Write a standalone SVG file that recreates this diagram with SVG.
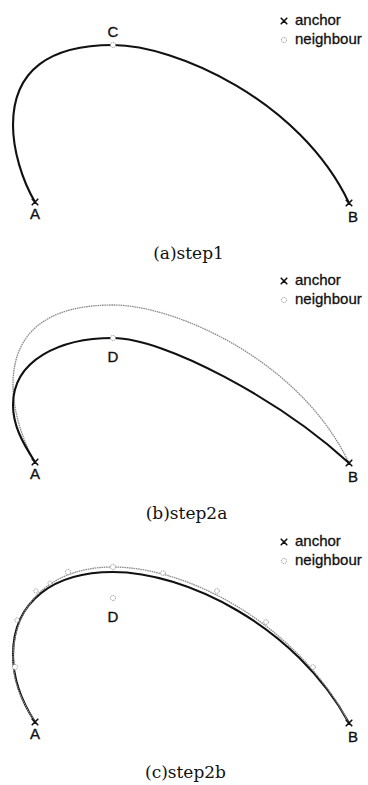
<svg xmlns="http://www.w3.org/2000/svg" width="368" height="785" viewBox="0 0 368 785">
<style>
.bg{fill:#fff}
.curve{fill:none;stroke:#111;stroke-width:2.1;stroke-linecap:round}
.old{fill:none;stroke:#8c8c8c;stroke-width:1.3;stroke-dasharray:1.6 0.7}
.x{stroke:#111;stroke-width:1.6;stroke-linecap:round}
.nb{fill:#fff;stroke:#888;stroke-width:0.9;stroke-dasharray:1.2 0.8}
.lbl{font-family:"Liberation Sans",Arial,sans-serif;font-size:15px;fill:#111;stroke:#111;stroke-width:0.35;text-anchor:middle}
.leg{font-family:"Liberation Sans",Arial,sans-serif;font-size:15px;fill:#111;stroke:#111;stroke-width:0.3}
.cap{font-family:"DejaVu Serif","Liberation Serif",serif;font-size:17px;fill:#111;text-anchor:middle}
</style>
<defs>
<g id="cross"><path class="x" d="M-2.8,-2.8 L2.8,2.8 M2.8,-2.8 L-2.8,2.8"/></g>
<path id="c1" d="M35,202 C22,180 13,150 13,125 C13,70 50,45 113,45 C175,45 300,100 349,203"/>
</defs>
<rect class="bg" x="0" y="0" width="368" height="785"/>

<!-- Panel a -->
<g id="panel-a">
<g id="connectors-a"><use href="#c1" class="curve"/></g>
<g id="a-A"><use href="#cross" x="35" y="202"/><text class="lbl" x="35" y="219">A</text></g>
<g id="a-B"><use href="#cross" x="349" y="203"/><text class="lbl" x="353" y="222">B</text></g>
<g id="a-C"><circle class="nb" cx="113" cy="45" r="2.6"/><text class="lbl" x="113" y="37">C</text></g>
<g id="a-legend"><use href="#cross" x="284" y="21"/><text class="leg" x="295" y="25">anchor</text><circle class="nb" cx="284" cy="40" r="2.6"/><text class="leg" x="295" y="44">neighbour</text></g>
<text class="cap" x="188.5" y="259">(a)step1</text>
</g>

<!-- Panel b -->
<g id="panel-b" transform="translate(0,260)">
<g id="connectors-b">
<use href="#c1" class="old"/>
<path class="curve" d="M35,202 C22,182 13,165 13,145 C13,100 60,78 113,78 C165,78 280,140 349,203"/>
</g>
<g id="b-A"><use href="#cross" x="35" y="202"/><text class="lbl" x="35" y="219">A</text></g>
<g id="b-B"><use href="#cross" x="349" y="203"/><text class="lbl" x="353" y="222">B</text></g>
<g id="b-D"><circle class="nb" cx="113" cy="78" r="2.6"/><text class="lbl" x="113" y="102">D</text></g>
<g id="b-legend"><use href="#cross" x="284" y="21"/><text class="leg" x="295" y="25">anchor</text><circle class="nb" cx="284" cy="40" r="2.6"/><text class="leg" x="295" y="44">neighbour</text></g>
<text class="cap" x="186.5" y="259">(b)step2a</text>
</g>

<!-- Panel c -->
<g id="panel-c" transform="translate(0,520)">
<g id="connectors-c">
<path class="curve" d="M35,202 C22,182 13,160 13,135 C13,80 55,52 113,52 C185,52 295,105 349,203"/>
<path class="old" d="M35,202 C22,182 13,162 13,140 C13,80 55,47 113,47 C185,47 295,101 349,203"/>
</g>
<g id="c-A"><use href="#cross" x="35" y="202"/><text class="lbl" x="35" y="219">A</text></g>
<g id="c-B"><use href="#cross" x="349" y="203"/><text class="lbl" x="353" y="222">B</text></g>
<g id="c-D"><circle class="nb" cx="113" cy="78" r="2.6"/><text class="lbl" x="113" y="102">D</text></g>
<g id="c-neighbours">
<circle class="nb" cx="15" cy="147" r="2.6"/>
<circle class="nb" cx="17" cy="100" r="2.2"/>
<circle class="nb" cx="36" cy="71" r="2.2"/>
<circle class="nb" cx="50" cy="63" r="2"/>
<circle class="nb" cx="68" cy="52" r="2.6"/>
<circle class="nb" cx="113" cy="47" r="2.6"/>
<circle class="nb" cx="163" cy="53" r="2.4"/>
<circle class="nb" cx="217" cy="71" r="2.4"/>
<circle class="nb" cx="266" cy="102" r="2.4"/>
<circle class="nb" cx="313" cy="147" r="2.4"/>
</g>
<g id="c-legend"><use href="#cross" x="284" y="22"/><text class="leg" x="295" y="26">anchor</text><circle class="nb" cx="284" cy="41" r="2.6"/><text class="leg" x="295" y="45">neighbour</text></g>
<text class="cap" x="185.5" y="258">(c)step2b</text>
</g>
</svg>
